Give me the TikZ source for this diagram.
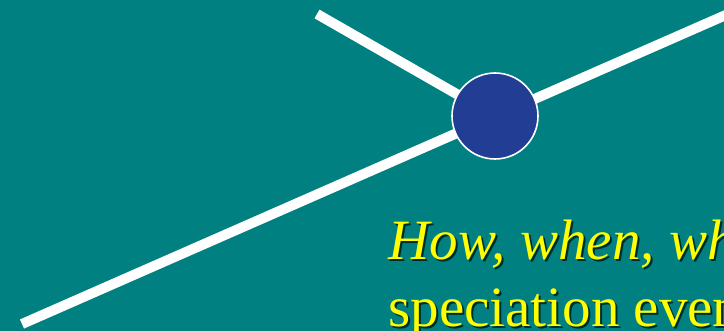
\documentclass[tikz,border=0pt]{standalone}
\usepackage{fontspec}
\setmainfont{Liberation Serif}
\usetikzlibrary{positioning}
\definecolor{slideTeal}{RGB}{0, 128, 128}
\definecolor{slideBlue}{RGB}{33, 61, 148}
\definecolor{slideYellow}{RGB}{255, 255, 0}
\definecolor{slideShadow}{RGB}{0, 45, 45}
\newcommand{\questiontext}{\textit{How, when, where}\\speciation events}

\begin{document}
\begin{tikzpicture}[
  x=0.5pt, y=-0.5pt,
  branch/.style={draw=white, line width=5pt},
  eventdot/.style={
    circle,
    draw=white,
    line width=0.8pt,
    fill=slideBlue,
    minimum size=43pt,
    inner sep=0pt
  },
  caption/.style={
    anchor=base west,
    align=left,
    inner sep=0pt,
    font=\fontsize{28.5}{33.5}\selectfont
  }
]
  \useasboundingbox (0,0) rectangle (724,331);
  \clip (0,0) rectangle (724,331);
  \fill[slideTeal] (0,0) rectangle (724,331);
  \coordinate (split) at (495,116);
  \coordinate (rootend) at (22,324);
  \coordinate (rightend) at (760,0);
  \coordinate (topend) at (317,14);
  \draw[branch] (rootend) -- (rightend);
  \draw[branch] (topend) -- (split);
  \node[eventdot] (event) at (split) {};
  \node[caption, text=slideShadow] (shadow) at (390,329) {\questiontext};
  \node[caption, text=slideYellow] (question) at (388,327) {\questiontext};
\end{tikzpicture}
\end{document}
